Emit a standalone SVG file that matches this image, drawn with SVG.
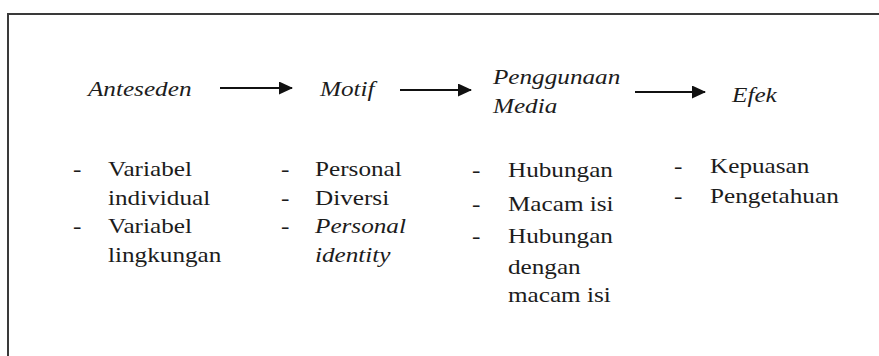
<svg xmlns="http://www.w3.org/2000/svg" width="879" height="356" viewBox="0 0 879 356">
<defs>
<marker id="ah" markerWidth="14" markerHeight="14" refX="13" refY="6.5" orient="auto" markerUnits="userSpaceOnUse">
<path d="M0,0 L14,6.5 L0,13 Z" fill="#111"/>
</marker>
</defs>
<rect width="879" height="356" fill="#fff"/>
<path d="M8,356 V14 H879" fill="none" stroke="#3a3a3a" stroke-width="2"/>
<g transform="scale(1.2 1)" font-family="Liberation Serif" font-size="21" fill="#1c1c1c">
<g id="anteseden">
<text font-family="Liberation Serif" font-style="italic" x="73.3" y="96">Anteseden</text>
<text font-family="Liberation Serif" x="60.8" y="176">-</text>
<text font-family="Liberation Serif" x="90" y="176">Variabel</text>
<text font-family="Liberation Serif" x="90" y="205">individual</text>
<text font-family="Liberation Serif" x="60.8" y="233">-</text>
<text font-family="Liberation Serif" x="90" y="233">Variabel</text>
<text font-family="Liberation Serif" x="90" y="262">lingkungan</text>
</g>
<g id="motif">
<text font-family="Liberation Serif" font-style="italic" x="266.7" y="96">Motif</text>
<text font-family="Liberation Serif" x="234.2" y="176">-</text>
<text font-family="Liberation Serif" x="262.5" y="176">Personal</text>
<text font-family="Liberation Serif" x="234.2" y="205">-</text>
<text font-family="Liberation Serif" x="262.5" y="205">Diversi</text>
<text font-family="Liberation Serif" x="234.2" y="233">-</text>
<text font-family="Liberation Serif" font-style="italic" x="262.5" y="233">Personal</text>
<text font-family="Liberation Serif" font-style="italic" x="262.5" y="262">identity</text>
</g>
<g id="penggunaan-media">
<text font-family="Liberation Serif" font-style="italic" x="410.8" y="84">Penggunaan</text>
<text font-family="Liberation Serif" font-style="italic" x="410.8" y="113">Media</text>
<text font-family="Liberation Serif" x="393.3" y="177">-</text>
<text font-family="Liberation Serif" x="423.3" y="177">Hubungan</text>
<text font-family="Liberation Serif" x="393.3" y="211">-</text>
<text font-family="Liberation Serif" x="423.3" y="211">Macam isi</text>
<text font-family="Liberation Serif" x="393.3" y="243">-</text>
<text font-family="Liberation Serif" x="423.3" y="243">Hubungan</text>
<text font-family="Liberation Serif" x="423.3" y="274">dengan</text>
<text font-family="Liberation Serif" x="423.3" y="302">macam isi</text>
</g>
<g id="efek">
<text font-family="Liberation Serif" font-style="italic" x="610" y="102">Efek</text>
<text font-family="Liberation Serif" x="561.7" y="173">-</text>
<text font-family="Liberation Serif" x="591.7" y="173">Kepuasan</text>
<text font-family="Liberation Serif" x="561.7" y="203">-</text>
<text font-family="Liberation Serif" x="591.7" y="203">Pengetahuan</text>
</g>
</g>
<g id="connectors" stroke="#111" stroke-width="2.2">
<line x1="220" y1="88" x2="292" y2="88" marker-end="url(#ah)"/>
<line x1="400" y1="90" x2="471" y2="90" marker-end="url(#ah)"/>
<line x1="635" y1="92" x2="705" y2="92" marker-end="url(#ah)"/>
</g>
</svg>
